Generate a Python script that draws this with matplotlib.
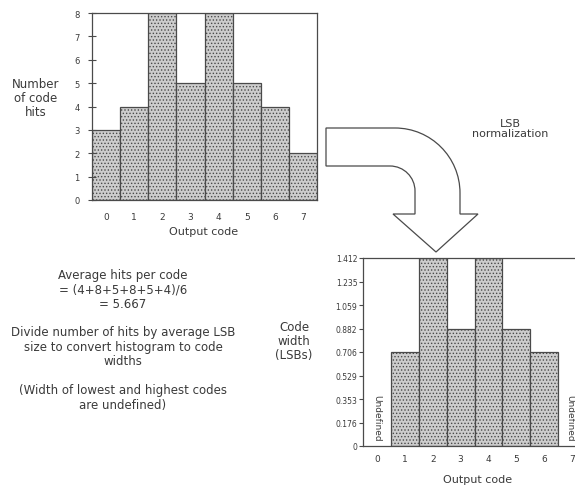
import numpy as np
import matplotlib
matplotlib.use("Agg")
import matplotlib.pyplot as plt
from matplotlib.path import Path
from matplotlib.patches import PathPatch

plt.rcParams['font.family'] = ['DejaVu Sans']
plt.rcParams['hatch.linewidth'] = 0.6

# data
codes = [0, 1, 2, 3, 4, 5, 6, 7]
hits = [3, 4, 8, 5, 8, 5, 4, 2]
hit_ticks = [0, 1, 2, 3, 4, 5, 6, 7, 8]

norm_codes = [1, 2, 3, 4, 5, 6]
norm_widths = [0.706, 1.412, 0.882, 1.412, 0.882, 0.706]
width_ticks = [0, 0.176, 0.353, 0.529, 0.706, 0.882, 1.059, 1.235, 1.412]
width_labels = ['0', '0.176', '0.353', '0.529', '0.706', '0.882', '1.059', '1.235', '1.412']

TXT = '#3a3a3a'
EDGE = '#4a4a4a'
FACE = '#cdcdcd'

W, H = 575, 489
fig = plt.figure(figsize=(W / 100, H / 100), dpi=100)


def px(x, y):
    return x / W, 1 - y / H


def style_axes(ax):
    for s in ax.spines.values():
        s.set_color(EDGE)
        s.set_linewidth(0.9)
    ax.tick_params(axis='x', length=0, colors=TXT, labelsize=6.5)
    ax.tick_params(axis='y', colors=EDGE, labelcolor=TXT, labelsize=6)


# top histogram
ax1 = fig.add_axes([92 / W, 1 - 201 / H, (317 - 92) / W, (201 - 14) / H])
ax1.bar(codes, hits, width=1.0, color=FACE, edgecolor=EDGE, hatch='.....', linewidth=0.9)
ax1.set_xlim(-0.5, 7.5)
ax1.set_ylim(0, 8)
ax1.set_xticks(codes)
ax1.set_yticks(hit_ticks)
style_axes(ax1)
ax1.tick_params(axis='y', direction='inout', length=6, pad=6)
ax1.tick_params(axis='x', pad=9)

# bottom normalized histogram
ax2 = fig.add_axes([363 / W, 1 - 447 / H, (586 - 363) / W, (447 - 259) / H])
ax2.bar(norm_codes, norm_widths, width=1.0, color=FACE, edgecolor=EDGE, hatch='.....', linewidth=0.9)
ax2.set_xlim(-0.5, 7.5)
ax2.set_ylim(0, 1.412)
ax2.set_xticks(codes)
ax2.set_yticks(width_ticks)
ax2.set_yticklabels(width_labels)
style_axes(ax2)
ax2.tick_params(axis='y', direction='out', length=3, pad=1, labelsize=5.5)
ax2.tick_params(axis='x', pad=6)
# the top code sits at the picture's edge, nudge its note inwards
for c, dx in [(0, 0.0), (7, -0.1)]:
    ax2.text(c + dx, 0.04, 'Undefined', rotation=270, ha='center', va='bottom',
             fontsize=6.5, color=TXT)

# axis titles
fig.text(*px(204, 232), 'Output code', ha='center', va='center', fontsize=8, color=TXT)
fig.text(*px(478, 480), 'Output code', ha='center', va='center', fontsize=8, color=TXT)
fig.text(*px(36, 99), 'Number\nof code\nhits', ha='center', va='center',
         fontsize=8.5, color=TXT, linespacing=1.1)
fig.text(*px(294, 342), 'Code\nwidth\n(LSBs)', ha='center', va='center',
         fontsize=8.5, color=TXT, linespacing=1.1)

# explanatory notes
fig.text(*px(123, 290), 'Average hits per code\n= (4+8+5+8+5+4)/6\n= 5.667',
         ha='center', va='center', fontsize=8.5, color=TXT, linespacing=1.15)
fig.text(*px(123, 347), 'Divide number of hits by average LSB\nsize to convert histogram to code\nwidths',
         ha='center', va='center', fontsize=8.5, color=TXT, linespacing=1.15)
fig.text(*px(123, 398), '(Width of lowest and highest codes\nare undefined)',
         ha='center', va='center', fontsize=8.5, color=TXT, linespacing=1.15)
fig.text(*px(510, 129), 'LSB\nnormalization', ha='center', va='center',
         fontsize=8, color=TXT, linespacing=1.1)

# curved block arrow
k = 0.5523
ro, co = 65, (395, 194)
ri, ci = 25, (390, 192)
verts = [
    (326, 129), (co[0], 129),
    (co[0] + k * ro, 129), (460, co[1] - k * ro), (460, co[1]),
    (460, 215), (478, 215), (436, 253), (393, 215), (415, 215),
    (415, ci[1]),
    (415, ci[1] - k * ri), (ci[0] + k * ri, 167), (ci[0], 167),
    (326, 167), (326, 129),
]
codes_path = [Path.MOVETO, Path.LINETO,
              Path.CURVE4, Path.CURVE4, Path.CURVE4,
              Path.LINETO, Path.LINETO, Path.LINETO, Path.LINETO, Path.LINETO,
              Path.LINETO,
              Path.CURVE4, Path.CURVE4, Path.CURVE4,
              Path.LINETO, Path.CLOSEPOLY]
arrow = Path([px(x, y) for x, y in verts], codes_path)
fig.patches.append(PathPatch(arrow, facecolor='white', edgecolor=EDGE, linewidth=0.9,
                             transform=fig.transFigure))

fig.savefig('out.png', dpi=100)
